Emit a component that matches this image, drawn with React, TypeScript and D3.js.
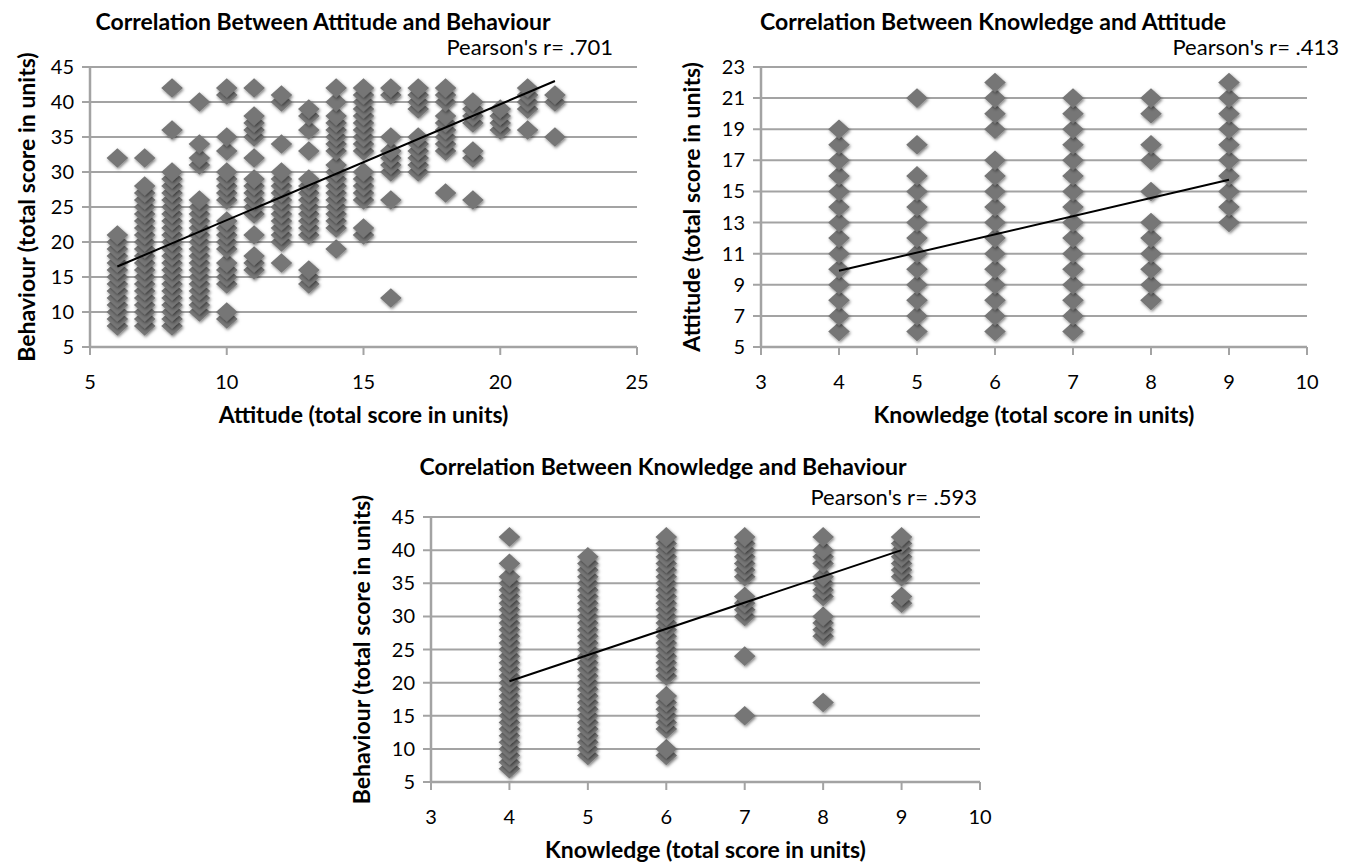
import React from "react";
import * as d3 from "d3";

// Each entry: [x score, every y score drawn in that column]
const attitudeBehaviour: [number, number[]][] = [
  [6, [8, 9, 10, 11, 12, 13, 14, 15, 16, 17, 18, 19, 20, 21, 32]],
  [7, [8, 9, 10, 11, 12, 13, 14, 15, 16, 17, 18, 19, 20, 21, 22, 23, 24, 25, 26, 27, 28, 32]],
  [8, [8, 9, 10, 11, 12, 13, 14, 15, 16, 17, 18, 19, 20, 21, 22, 23, 24, 25, 26, 27, 28, 29, 30, 36, 42]],
  [9, [10, 11, 12, 13, 14, 15, 16, 17, 18, 19, 20, 21, 22, 23, 24, 25, 26, 31, 32, 34, 40]],
  [10, [9, 10, 14, 15, 16, 17, 19, 20, 21, 22, 23, 26, 27, 28, 29, 30, 33, 35, 41, 42]],
  [11, [16, 17, 18, 21, 24, 25, 26, 27, 28, 29, 32, 35, 36, 37, 38, 42]],
  [12, [17, 20, 21, 22, 23, 24, 25, 26, 27, 28, 29, 30, 34, 40, 41]],
  [13, [14, 15, 16, 21, 22, 23, 24, 25, 26, 27, 28, 29, 33, 36, 38, 39]],
  [14, [19, 22, 23, 24, 25, 26, 27, 28, 29, 30, 31, 33, 34, 35, 36, 37, 38, 40, 42]],
  [15, [21, 22, 26, 27, 28, 29, 30, 33, 34, 35, 36, 37, 38, 39, 40, 41, 42]],
  [16, [12, 26, 30, 31, 32, 33, 35, 41, 42]],
  [17, [30, 31, 32, 33, 34, 35, 39, 40, 41, 42]],
  [18, [27, 33, 34, 35, 36, 37, 38, 40, 41, 42]],
  [19, [26, 32, 33, 37, 38, 39, 40]],
  [20, [36, 37, 38, 39]],
  [21, [36, 39, 40, 41, 42]],
  [22, [35, 40, 41]],
];

const knowledgeAttitude: [number, number[]][] = [
  [4, [6, 7, 8, 9, 10, 11, 12, 13, 14, 15, 16, 17, 18, 19]],
  [5, [6, 7, 8, 9, 10, 11, 12, 13, 14, 15, 16, 18, 21]],
  [6, [6, 7, 8, 9, 10, 11, 12, 13, 14, 15, 16, 17, 19, 20, 21, 22]],
  [7, [6, 7, 8, 9, 10, 11, 12, 13, 14, 15, 16, 17, 18, 19, 20, 21]],
  [8, [8, 9, 10, 11, 12, 13, 15, 17, 18, 20, 21]],
  [9, [13, 14, 15, 16, 17, 18, 19, 20, 21, 22]],
];

const knowledgeBehaviour: [number, number[]][] = [
  [4, [7, 8, 9, 10, 11, 12, 13, 14, 15, 16, 17, 18, 19, 20, 21, 22, 23, 24, 25, 26, 27, 28, 29, 30, 31, 32, 33, 34, 35, 36, 38, 42]],
  [5, [9, 10, 11, 12, 13, 14, 15, 16, 17, 18, 19, 20, 21, 22, 23, 24, 25, 26, 27, 28, 29, 30, 31, 32, 33, 34, 35, 36, 37, 38, 39]],
  [6, [9, 10, 13, 14, 15, 16, 17, 18, 21, 22, 23, 24, 25, 26, 27, 28, 29, 30, 31, 32, 33, 34, 35, 36, 37, 38, 39, 40, 41, 42]],
  [7, [15, 24, 30, 31, 32, 33, 36, 37, 38, 39, 40, 41, 42]],
  [8, [17, 27, 28, 29, 30, 33, 34, 35, 36, 38, 39, 40, 42]],
  [9, [32, 33, 36, 37, 38, 39, 40, 41, 42]],
];

// trend line end points
const trendAttBeh: [number, number][] = [[6, 16.5], [22, 43]];
const trendKnowAtt: [number, number][] = [[4, 9.9], [9, 15.75]];
const trendKnowBeh: [number, number][] = [[4, 20.2], [9, 40]];

const ticksAttitude = [5, 10, 15, 20, 25];
const ticksBehaviour = [5, 10, 15, 20, 25, 30, 35, 40, 45];
const ticksKnowledge = [3, 4, 5, 6, 7, 8, 9, 10];
const ticksAttitudeY = [5, 7, 9, 11, 13, 15, 17, 19, 21, 23];

const FONT = "Lato, 'Open Sans', sans-serif";
const GRID = "#a3a3a3";

type PanelProps = {
  title: string;
  pearson: string;
  xLabel: string;
  yLabel: string;
  columns: [number, number[]][];
  trend: [number, number][];
  xTicks: number[];
  yTicks: number[];
  left: number;
  right: number;
  top: number;
  bottom: number;
  titleX: number;
  titleY: number;
  pearsonX: number;
  pearsonY: number;
  yLabelX: number;
};

function Panel(p: PanelProps) {
  const x = d3.scaleLinear().domain(d3.extent(p.xTicks) as [number, number]).range([p.left, p.right]);
  const y = d3.scaleLinear().domain(d3.extent(p.yTicks) as [number, number]).range([p.bottom, p.top]);
  const points = p.columns.flatMap(([cx, ys]) => ys.map((v) => [cx, v]));
  const line = d3.line<[number, number]>().x((d) => x(d[0])).y((d) => y(d[1]));
  const diamond = "M0,-9.8L10.8,0L0,9.8L-10.8,0Z";

  return (
    <g>
      {p.yTicks.map((t) => (
        <line key={"g" + t} x1={p.left - 8} x2={p.right} y1={y(t)} y2={y(t)} stroke={GRID} strokeWidth={2} />
      ))}
      <line x1={p.left} x2={p.left} y1={p.top} y2={p.bottom} stroke={GRID} strokeWidth={2.5} />
      <line x1={p.left} x2={p.right} y1={p.bottom} y2={p.bottom} stroke={GRID} strokeWidth={2.5} />
      {p.xTicks.map((t) => (
        <line key={"t" + t} x1={x(t)} x2={x(t)} y1={p.bottom} y2={p.bottom + 8} stroke={GRID} strokeWidth={2} />
      ))}
      {points.map((d, i) => (
        <path key={i} d={diamond} transform={`translate(${x(d[0])},${y(d[1])})`} fill="#767676" filter="url(#shade)" />
      ))}
      <path d={line(p.trend) || ""} stroke="#000" strokeWidth={2} fill="none" />
      {p.yTicks.map((t) => (
        <text key={"y" + t} x={p.left - 16} y={y(t)} dy="0.35em" textAnchor="end" fontSize={20} fontFamily={FONT}>
          {t}
        </text>
      ))}
      {p.xTicks.map((t) => (
        <text key={"x" + t} x={x(t)} y={p.bottom + 42} textAnchor="middle" fontSize={20} fontFamily={FONT}>
          {t}
        </text>
      ))}
      <text x={p.titleX} y={p.titleY} textAnchor="middle" fontSize={23} fontWeight="bold" fontFamily={FONT}>
        {p.title}
      </text>
      <text x={p.pearsonX} y={p.pearsonY} textAnchor="end" fontSize={22} fontFamily={FONT}>
        {p.pearson}
      </text>
      <text x={(p.left + p.right) / 2} y={p.bottom + 76} textAnchor="middle" fontSize={23} fontWeight="bold" fontFamily={FONT}>
        {p.xLabel}
      </text>
      <text
        transform={`translate(${p.yLabelX},${(p.top + p.bottom) / 2}) rotate(-90)`}
        dy="0.35em"
        textAnchor="middle"
        fontSize={23}
        fontWeight="bold"
        fontFamily={FONT}
      >
        {p.yLabel}
      </text>
    </g>
  );
}

export default function App() {
  return (
    <svg width={1350} height={865} style={{ position: "absolute", left: 0, top: 0, background: "#fff" }}>
      <defs>
        <filter id="shade" x="-50%" y="-50%" width="200%" height="200%">
          <feDropShadow dx={1} dy={1.5} stdDeviation={1.6} floodColor="#000" floodOpacity={0.5} />
        </filter>
      </defs>
      <Panel
        title="Correlation Between Attitude and Behaviour"
        pearson="Pearson's r= .701"
        xLabel="Attitude (total score in units)"
        yLabel="Behaviour (total score in units)"
        columns={attitudeBehaviour}
        trend={trendAttBeh}
        xTicks={ticksAttitude}
        yTicks={ticksBehaviour}
        left={90}
        right={637}
        top={67}
        bottom={347}
        titleX={323}
        titleY={30}
        pearsonX={613}
        pearsonY={55}
        yLabelX={27}
      />
      <Panel
        title="Correlation Between Knowledge and Attitude"
        pearson="Pearson's r= .413"
        xLabel="Knowledge (total score in units)"
        yLabel="Attitude (total score in units)"
        columns={knowledgeAttitude}
        trend={trendKnowAtt}
        xTicks={ticksKnowledge}
        yTicks={ticksAttitudeY}
        left={761}
        right={1307}
        top={67}
        bottom={347}
        titleX={993}
        titleY={30}
        pearsonX={1339}
        pearsonY={55}
        yLabelX={692}
      />
      <Panel
        title="Correlation Between Knowledge and Behaviour"
        pearson="Pearson's r= .593"
        xLabel="Knowledge (total score in units)"
        yLabel="Behaviour (total score in units)"
        columns={knowledgeBehaviour}
        trend={trendKnowBeh}
        xTicks={ticksKnowledge}
        yTicks={ticksBehaviour}
        left={431}
        right={980}
        top={517}
        bottom={782}
        titleX={663}
        titleY={475}
        pearsonX={977}
        pearsonY={505}
        yLabelX={362}
      />
    </svg>
  );
}
